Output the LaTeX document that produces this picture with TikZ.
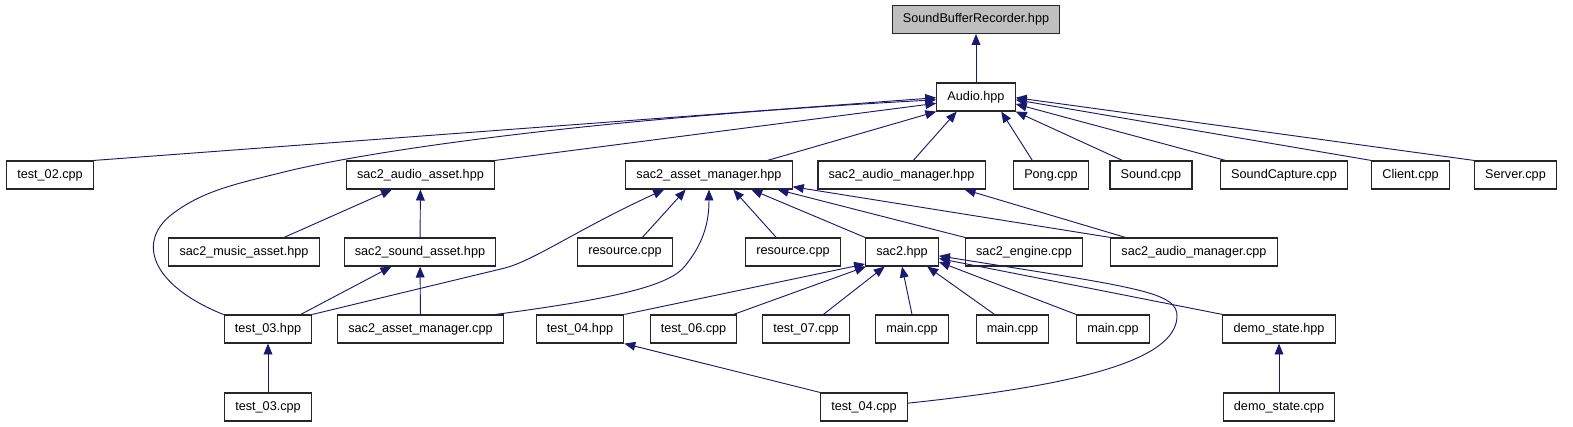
\documentclass[tikz,border=0pt]{standalone}
\usepackage{fontspec}
\setmainfont{Liberation Sans}
\usetikzlibrary{arrows.meta}
\definecolor{edgeblue}{RGB}{25,25,112}
\definecolor{curgray}{RGB}{191,191,191}

\begin{document}
\begin{tikzpicture}[x=0.75pt, y=-0.75pt,
  file/.style={draw=black!85, line width=0.85pt, fill=white, minimum height=21pt,
    inner xsep=8pt, inner ysep=0pt, font=\fontsize{9.5}{11}\selectfont},
  dep/.style={draw=edgeblue, line width=0.7pt, -{Triangle[length=8.2pt,width=6.6pt]}}]
  \useasboundingbox (0,0) rectangle (1573,427);

  % Top
  \node[file, fill=curgray] (sbr) at (976,19.5) {SoundBufferRecorder.hpp};
  \node[file] (audio) at (976,97) {Audio.hpp};

  % Row 2
  \node[file] (test02) at (50,175) {test\_02.cpp};
  \node[file] (audioasset) at (420.5,175) {sac2\_audio\_asset.hpp};
  \node[file] (assetmgrh) at (709,175) {sac2\_asset\_manager.hpp};
  \node[file] (audiomgrh) at (901.5,175) {sac2\_audio\_manager.hpp};
  \node[file] (pong) at (1051,175) {Pong.cpp};
  \node[file] (sound) at (1151,175) {Sound.cpp};
  \node[file] (soundcapture) at (1284,175) {SoundCapture.cpp};
  \node[file] (client) at (1410.5,175) {Client.cpp};
  \node[file] (server) at (1515.5,175) {Server.cpp};

  % Row 3
  \node[file] (musicasset) at (244,252) {sac2\_music\_asset.hpp};
  \node[file] (soundasset) at (420,252) {sac2\_sound\_asset.hpp};
  \node[file] (res1) at (625,252) {resource.cpp};
  \node[file] (res2) at (793,252) {resource.cpp};
  \node[file] (sactwo) at (902,252) {sac2.hpp};
  \node[file] (engine) at (1024,252) {sac2\_engine.cpp};
  \node[file] (audiomgrcpp) at (1194,252) {sac2\_audio\_manager.cpp};

  % Row 4
  \node[file] (test03h) at (268,329) {test\_03.hpp};
  \node[file] (assetmgrcpp) at (420.5,329) {sac2\_asset\_manager.cpp};
  \node[file] (test04h) at (580,329) {test\_04.hpp};
  \node[file] (test06) at (693.5,329) {test\_06.cpp};
  \node[file] (test07) at (806,329) {test\_07.cpp};
  \node[file] (main1) at (912,329) {main.cpp};
  \node[file] (main2) at (1012.5,329) {main.cpp};
  \node[file] (main3) at (1113,329) {main.cpp};
  \node[file] (demostateh) at (1279,329) {demo\_state.hpp};

  % Row 5
  \node[file] (test03cpp) at (268,407) {test\_03.cpp};
  \node[file] (test04cpp) at (864,407) {test\_04.cpp};
  \node[file] (demostatecpp) at (1279,407) {demo\_state.cpp};

  % Includes of Audio.hpp
  \draw[dep] (audio) -- (sbr);
  \draw[dep] (test02.north east) -- (audio.181);
  \draw[dep] (test03h.162) .. controls (150,285) and (135,240) .. (175,212)
    .. controls (205,190) and (240,183) .. (280,173)
    .. controls (370,150) and (600,118) .. (audio.184);
  \draw[dep] (audioasset.north east) -- (audio.189);
  \draw[dep] (assetmgrh.14) -- (audio.south west);
  \draw[dep] (audiomgrh.51) -- (audio.217);
  \draw[dep] (pong.142) -- (audio.330);
  \draw[dep] (sound.153) -- (audio.south east);
  \draw[dep] (soundcapture.166) -- (audio.350);
  \draw[dep] (client.north west) -- (audio.356);
  \draw[dep] (server.north west) -- (audio.359);

  % Assets
  \draw[dep] (musicasset.20) -- (audioasset.207);
  \draw[dep] (soundasset) -- (audioasset);
  \draw[dep] (test03h.24) -- (soundasset.207);
  \draw[dep] (assetmgrcpp) -- (soundasset);

  % Includes of sac2_asset_manager.hpp
  \draw[dep] (test03h.north east) -- (505,268)
    .. controls (535,260) and (580,228) .. (assetmgrh.198);
  \draw[dep] (res1.40) -- (assetmgrh.212);
  \draw[dep] (assetmgrcpp.11) .. controls (620,298) and (670,285) .. (685,266)
    .. controls (702,245) and (709,225) .. (assetmgrh.south);
  \draw[dep] (res2.139) -- (assetmgrh.329);
  \draw[dep] (sactwo.north west) -- (assetmgrh.341);
  \draw[dep] (engine.north west) -- (assetmgrh.348);
  \draw[dep] (audiomgrcpp.north west) -- (assetmgrh.352);
  \draw[dep] (audiomgrcpp.168) -- (audiomgrh.347);

  % Includes of sac2.hpp
  \draw[dep] (test04h.north east) -- (sactwo.198);
  \draw[dep] (test06.20) -- (sactwo.202);
  \draw[dep] (test07.40) -- (sactwo.220);
  \draw[dep] (main1.north) -- (sactwo.south);
  \draw[dep] (main2.141) -- (sactwo.330);
  \draw[dep] (main3.north west) -- (sactwo.345);
  \draw[dep] (demostateh.north west) -- (sactwo.350);
  \draw[dep] (test04cpp.5) .. controls (1080,385) and (1175,360) .. (1177,317)
    .. controls (1178,292) and (1140,288) .. (sactwo.354);

  % Bottom
  \draw[dep] (test03cpp) -- (test03h);
  \draw[dep] (test04cpp.north west) -- (test04h.south east);
  \draw[dep] (demostatecpp) -- (demostateh);
\end{tikzpicture}
\end{document}
